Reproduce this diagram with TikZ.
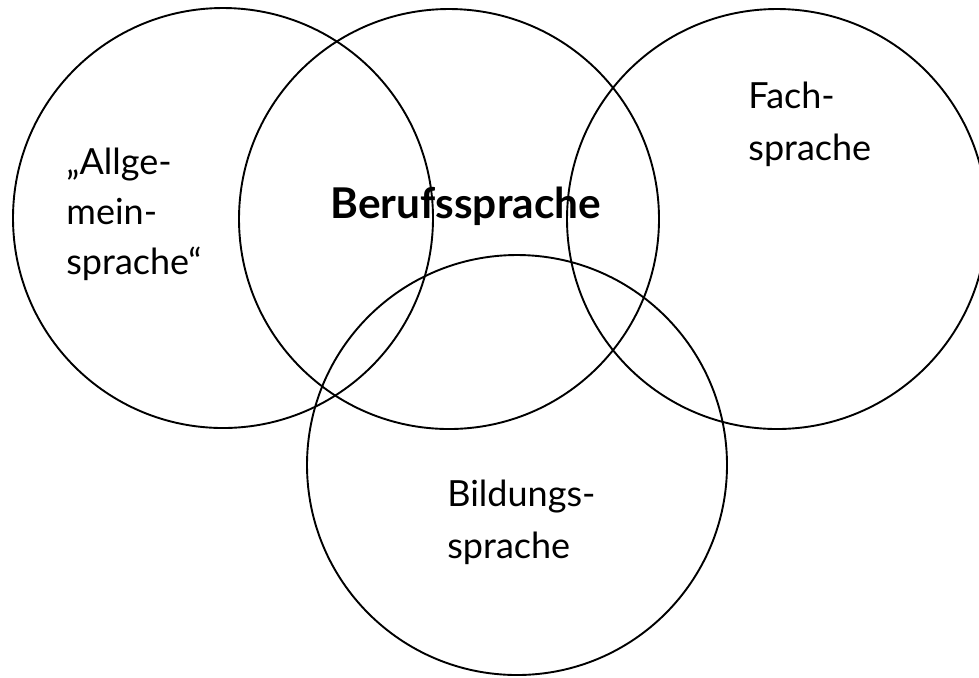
\documentclass[tikz,border=0pt]{standalone}
\usepackage{fontspec}
\setmainfont{Lato}
\usetikzlibrary{positioning}

\begin{document}
\begin{tikzpicture}[
    x=0.5pt, y=-0.5pt,
    field/.style={draw, circle, line width=0.95pt, minimum size=210pt, inner sep=0pt},
    areatext/.style={font=\fontsize{18}{26}\selectfont, align=left,
                     anchor=base west, inner sep=0pt},
  ]
  \useasboundingbox (0,0) rectangle (979,677);

  % === Circles ===
  \node[field] (allg)  at (223,218) {};
  \node[field] (beruf) at (449,219) {};
  \node[field] (fach)  at (777,219) {};
  \node[field] (bild)  at (517,465) {};

  % === Labels (base = last line) ===
  \node[areatext, font=\fontsize{18}{25}\selectfont] (allgtext) at (66,274) {„Allge-\\mein-\\sprache“};
  \node[areatext, font=\fontsize{21.2}{26}\selectfont\bfseries] (berufstext) at (330,218) {Berufssprache};
  \node[areatext] (fachtext) at (748,160) {Fach-\\sprache};
  \node[areatext] (bildtext) at (447,558) {Bildungs-\\sprache};

\end{tikzpicture}
\end{document}
